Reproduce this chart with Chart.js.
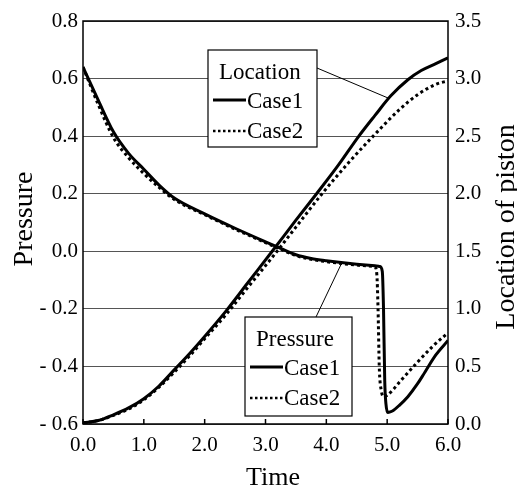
<!DOCTYPE html>
<html>
<head>
<meta charset="utf-8">
<script src="https://cdn.jsdelivr.net/npm/chart.js@4.4.0/dist/chart.umd.min.js"></script>
<style>
html, body { margin: 0; padding: 0; background: #fff; }
</style>
</head>
<body>
<canvas id="chart" width="517" height="488"></canvas>
<script>
// values
var pressureTime1 = [0, 0.25, 0.5, 0.75, 1.0, 1.25, 1.5, 2.0, 2.5, 3.0, 3.25, 3.5, 3.75, 4.0, 4.5, 4.8, 4.88, 4.92, 4.94, 4.96, 4.98, 5.01, 5.05, 5.1, 5.2, 5.34, 5.5, 5.62, 5.8, 6.0];
var pressureCase1 = [0.64, 0.525, 0.415, 0.34, 0.285, 0.23, 0.185, 0.13, 0.08, 0.033, 0.01, -0.012, -0.025, -0.033, -0.045, -0.05, -0.053, -0.07, -0.2, -0.45, -0.53, -0.56, -0.558, -0.553, -0.535, -0.505, -0.46, -0.42, -0.36, -0.31];

var pressureTime2 = [0, 0.25, 0.5, 0.75, 1.0, 1.25, 1.5, 2.0, 2.5, 3.0, 3.25, 3.5, 3.75, 4.0, 4.5, 4.75, 4.8, 4.83, 4.85, 4.87, 4.9, 4.95, 5.0, 5.1, 5.2, 5.5, 5.75, 6.0];
var pressureCase2 = [0.64, 0.51, 0.395, 0.325, 0.27, 0.222, 0.18, 0.127, 0.077, 0.03, 0.007, -0.015, -0.028, -0.036, -0.048, -0.052, -0.055, -0.08, -0.2, -0.4, -0.48, -0.505, -0.5, -0.48, -0.455, -0.385, -0.33, -0.283];

var locationTime1 = [0, 0.25, 0.5, 0.75, 1.0, 1.25, 1.5, 1.75, 2.0, 2.35, 2.7, 3.11, 3.5, 3.84, 4.2, 4.52, 4.8, 5.06, 5.34, 5.56, 5.8, 6.0];
var locationCase1 = [0.01, 0.03, 0.08, 0.14, 0.22, 0.33, 0.47, 0.61, 0.76, 0.98, 1.22, 1.5, 1.77, 2.0, 2.25, 2.49, 2.68, 2.85, 2.99, 3.07, 3.13, 3.18];

var locationTime2 = [0, 0.25, 0.5, 0.75, 1.0, 1.25, 1.5, 1.75, 2.0, 2.35, 2.7, 3.19, 3.5, 3.93, 4.35, 4.77, 5.2, 5.5, 5.8, 6.0];
var locationCase2 = [0.01, 0.03, 0.075, 0.13, 0.21, 0.32, 0.45, 0.59, 0.74, 0.95, 1.18, 1.5, 1.71, 2.0, 2.26, 2.5, 2.73, 2.86, 2.95, 2.98];

var serif = "'Liberation Serif', 'Times New Roman', serif";
Chart.defaults.font.family = serif;
Chart.defaults.color = '#000';

function pts(xs, ys) {
    return xs.map(function(x, i) { return { x: x, y: ys[i] }; });
}

function fmt(v) {
    if (Math.abs(v) < 1e-9) v = 0;
    if (v < 0) return '- ' + Math.abs(v).toFixed(1);
    return v.toFixed(1);
}

var extras = {
    id: 'extras',
    afterDraw: function(chart) {
        var ctx = chart.ctx;
        var a = chart.chartArea;
        var xs = chart.scales.x, ys = chart.scales.y, ys2 = chart.scales.y2;
        ctx.save();

        // frame
        ctx.strokeStyle = '#000';
        ctx.lineWidth = 1.5;
        ctx.strokeRect(a.left, a.top, a.right - a.left, a.bottom - a.top);

        // inward ticks on the time axis
        xs.ticks.forEach(function(t) {
            var px = xs.getPixelForValue(t.value);
            ctx.beginPath();
            ctx.moveTo(px, a.bottom);
            ctx.lineTo(px, a.bottom - 5);
            ctx.stroke();
        });

        // axis titles
        ctx.fillStyle = '#000';
        ctx.textAlign = 'center';
        ctx.textBaseline = 'alphabetic';
        ctx.font = '26px ' + serif;
        ctx.fillText('Time', 273, 485);

        ctx.font = '28px ' + serif;
        ctx.save();
        ctx.translate(32, 219);
        ctx.rotate(-Math.PI / 2);
        ctx.fillText('Pressure', 0, 0);
        ctx.restore();

        ctx.save();
        ctx.translate(514, 227);
        ctx.rotate(-Math.PI / 2);
        ctx.fillText('Location of piston', 0, 0);
        ctx.restore();

        // callout lines
        ctx.lineWidth = 1;
        ctx.beginPath();
        ctx.moveTo(317, 68);
        ctx.lineTo(xs.getPixelForValue(5.02), ys2.getPixelForValue(2.83));
        ctx.stroke();
        ctx.beginPath();
        ctx.moveTo(316, 317);
        ctx.lineTo(xs.getPixelForValue(4.25), ys.getPixelForValue(-0.042));
        ctx.stroke();

        // legend boxes
        function legendBox(x, y, w, h, title) {
            ctx.fillStyle = '#fff';
            ctx.fillRect(x, y, w, h);
            ctx.strokeStyle = '#000';
            ctx.lineWidth = 1.2;
            ctx.strokeRect(x, y, w, h);
            ctx.fillStyle = '#000';
            ctx.textAlign = 'left';
            ctx.font = '23px ' + serif;
            ctx.fillText(title, x + 11, y + 29);
            ctx.fillText('Case1', x + 39, y + 58);
            ctx.fillText('Case2', x + 39, y + 88);
            ctx.lineWidth = 3;
            ctx.beginPath();
            ctx.moveTo(x + 5, y + 50);
            ctx.lineTo(x + 38, y + 50);
            ctx.stroke();
            ctx.setLineDash([2.5, 2.5]);
            ctx.lineWidth = 2.5;
            ctx.beginPath();
            ctx.moveTo(x + 5, y + 81);
            ctx.lineTo(x + 38, y + 81);
            ctx.stroke();
            ctx.setLineDash([]);
        }
        legendBox(208, 50, 109, 97, 'Location');
        legendBox(245, 317, 107, 99, 'Pressure');

        ctx.restore();
    }
};

var tickFont = { family: serif, size: 21 };

var config = {
    type: 'line',
    data: {
        datasets: [{
            label: 'Pressure Case1',
            data: pts(pressureTime1, pressureCase1),
            yAxisID: 'y',
            borderColor: '#000',
            borderWidth: 3
        }, {
            label: 'Pressure Case2',
            data: pts(pressureTime2, pressureCase2),
            yAxisID: 'y',
            borderColor: '#000',
            borderWidth: 3,
            borderDash: [3, 3]
        }, {
            label: 'Location Case1',
            data: pts(locationTime1, locationCase1),
            yAxisID: 'y2',
            borderColor: '#000',
            borderWidth: 3
        }, {
            label: 'Location Case2',
            data: pts(locationTime2, locationCase2),
            yAxisID: 'y2',
            borderColor: '#000',
            borderWidth: 3,
            borderDash: [3, 3]
        }]
    },
    options: {
        responsive: false,
        animation: false,
        layout: { padding: { top: 21, left: 0, right: 0, bottom: 0 } },
        elements: {
            point: { radius: 0 },
            line: { cubicInterpolationMode: 'monotone', fill: false, borderCapStyle: 'butt' }
        },
        plugins: {
            legend: { display: false },
            tooltip: { enabled: false }
        },
        scales: {
            x: {
                type: 'linear',
                position: 'bottom',
                min: 0,
                max: 6,
                grid: { display: false, drawTicks: false },
                border: { display: false },
                ticks: { stepSize: 1, color: '#000', font: tickFont, padding: 9, maxRotation: 0, callback: fmt },
                afterFit: function(s) { s.height = 64; }
            },
            y: {
                position: 'left',
                min: -0.6,
                max: 0.8,
                grid: { color: '#555', lineWidth: 1, drawTicks: false },
                border: { display: false },
                ticks: { stepSize: 0.2, color: '#000', font: tickFont, padding: 5, callback: fmt },
                afterFit: function(s) { s.width = 83; }
            },
            y2: {
                position: 'right',
                min: 0,
                max: 3.5,
                grid: { display: false, drawTicks: false },
                border: { display: false },
                ticks: { stepSize: 0.5, color: '#000', font: tickFont, padding: 7, callback: fmt },
                afterFit: function(s) { s.width = 69; }
            }
        }
    },
    plugins: [extras]
};

window.onload = function() {
    var ctx = document.getElementById('chart').getContext('2d');
    new Chart(ctx, config);
};
</script>
</body>
</html>
